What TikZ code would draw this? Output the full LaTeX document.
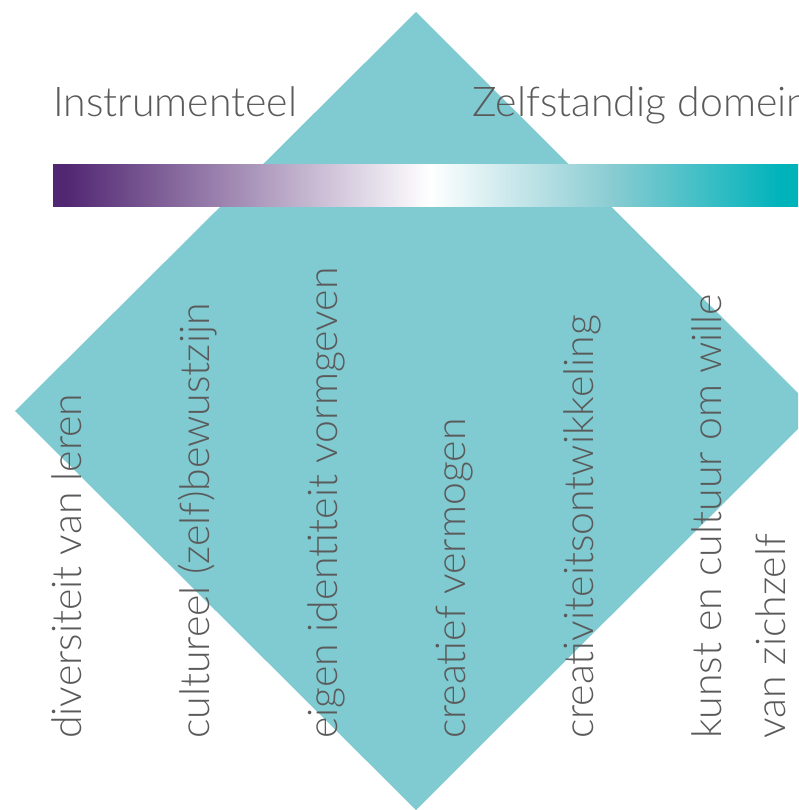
\documentclass[tikz,border=0pt]{standalone}
\usepackage{fontspec}
\setmainfont{Lato}[UprightFont={* Light}]
\definecolor{diam}{HTML}{80CAD1}
\definecolor{txt}{HTML}{5A5A5A}
\definecolor{purp}{HTML}{512672}
\definecolor{midteal}{HTML}{8ACCD2}
\definecolor{tealc}{HTML}{00B3BB}
\pgfdeclarehorizontalshading{barshade}{100bp}{color(0bp)=(purp); color(25.8bp)=(purp); color(50.3bp)=(white); color(62.4bp)=(midteal); color(73.8bp)=(tealc); color(100bp)=(tealc)}
\begin{document}
\begin{tikzpicture}[x=1pt,y=-1pt,
  lbl/.style={text=txt, font=\fontsize{41}{48}\selectfont, inner sep=0pt},
  vlbl/.style={lbl, rotate=90, anchor=base west}]
\useasboundingbox (0,0) rectangle (798,810);
\clip (0,0) rectangle (798,810);
\fill[diam] (416,12) -- (816,411) -- (416,810) -- (15,411) -- cycle;
\shade[shading=barshade] (53,165) rectangle (798,207);
\node[lbl, anchor=base west] (instr) at (53,117) {Instrumenteel};
\node[lbl, anchor=base west] (zelf) at (472,117) {Zelfstandig domein};
\node[vlbl] (t1) at (81,739) {diversiteit van leren};
\node[vlbl] (t2) at (209,739) {cultureel (zelf)bewustzijn};
\node[vlbl] (t3) at (337,739) {eigen identiteit vormgeven};
\node[vlbl] (t4) at (465,739) {creatief vermogen};
\node[vlbl] (t5) at (593,739) {creativiteitsontwikkeling};
\node[vlbl] (t6) at (721,739) {kunst en cultuur om wille};
\node[vlbl] (t7) at (785,739) {van zichzelf};
\end{tikzpicture}
\end{document}
